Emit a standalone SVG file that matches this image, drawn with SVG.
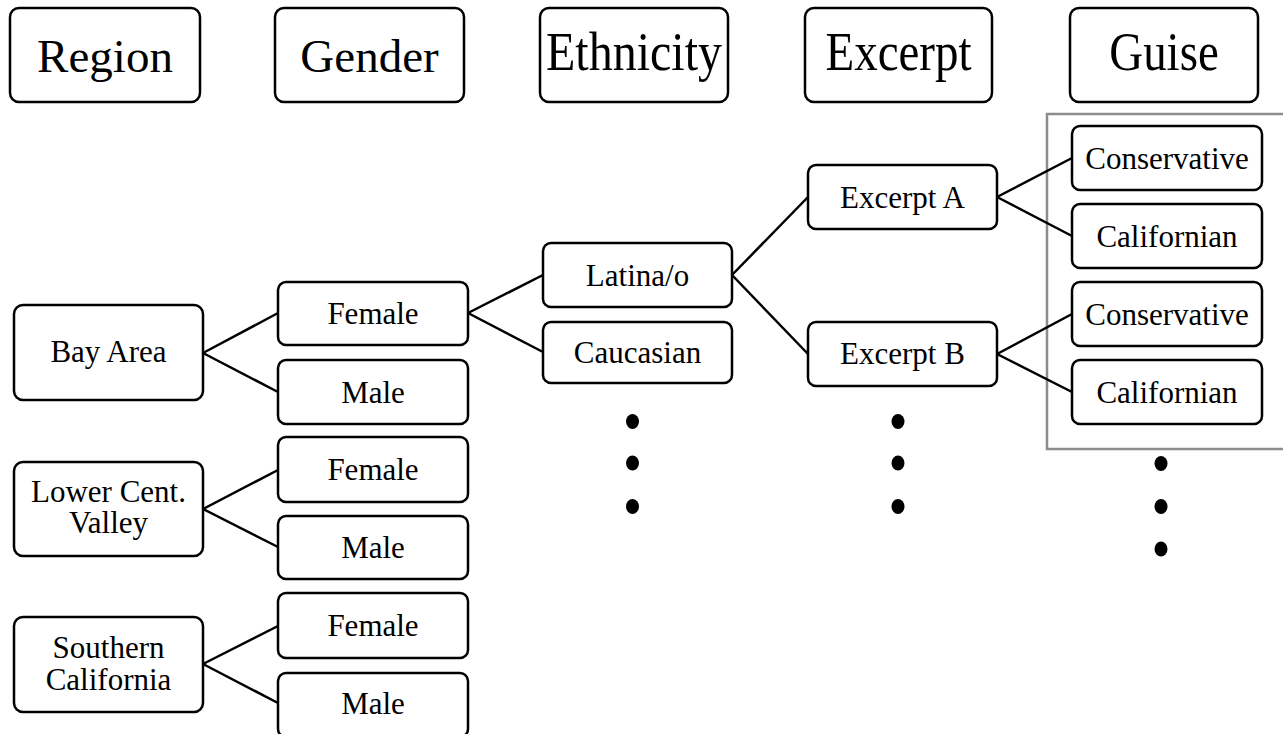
<svg xmlns="http://www.w3.org/2000/svg" width="1283" height="734" viewBox="0 0 1283 734">
  <style>
    .box { fill: #ffffff; stroke: #000000; stroke-width: 2.5; }
    .hdr { font-size: 47px; fill: #000; text-anchor: middle; }
    .lbl { font-size: 31px; fill: #000; text-anchor: middle; }
    .edge { stroke: #000000; stroke-width: 2.5; fill: none; }
    .dot { fill: #000000; }
  </style>

  <rect x="0" y="0" width="1283" height="734" fill="#ffffff"/>

  <!-- highlight frame around the guise leaves -->
  <rect id="guise-frame" x="1047" y="114" width="260" height="335" fill="none" stroke="#8c8c8c" stroke-width="2.5"/>

  <!-- connectors -->
  <g id="connectors" class="edge">
    <line x1="203" y1="353" x2="278" y2="313"/>
    <line x1="203" y1="353" x2="278" y2="392"/>
    <line x1="203" y1="509" x2="278" y2="470"/>
    <line x1="203" y1="509" x2="278" y2="547"/>
    <line x1="203" y1="664" x2="278" y2="626"/>
    <line x1="203" y1="664" x2="278" y2="703"/>
    <line x1="468" y1="313" x2="543" y2="275"/>
    <line x1="468" y1="313" x2="543" y2="352"/>
    <line x1="732" y1="275" x2="808" y2="197"/>
    <line x1="732" y1="275" x2="808" y2="354"/>
    <line x1="997" y1="197" x2="1072" y2="158"/>
    <line x1="997" y1="197" x2="1072" y2="236"/>
    <line x1="997" y1="354" x2="1072" y2="314"/>
    <line x1="997" y1="354" x2="1072" y2="392"/>
  </g>

  <g font-family="Liberation Serif, Tinos, Times New Roman, DejaVu Serif, serif">
  <!-- column headers -->
  <g id="hdr-region">
    <rect class="box" x="10" y="8" width="190" height="94" rx="9"/>
    <text class="hdr" x="105" y="72">Region</text>
  </g>
  <g id="hdr-gender">
    <rect class="box" x="275" y="8" width="189" height="94" rx="9"/>
    <text class="hdr" x="369.5" y="72">Gender</text>
  </g>
  <g id="hdr-ethnicity">
    <rect class="box" x="540" y="8" width="188" height="94" rx="9"/>
    <text class="hdr" transform="translate(634 70) scale(1 1.15)" x="0" y="0" textLength="176" lengthAdjust="spacingAndGlyphs">Ethnicity</text>
  </g>
  <g id="hdr-excerpt">
    <rect class="box" x="805" y="8" width="187" height="94" rx="9"/>
    <text class="hdr" transform="translate(898.5 70) scale(1 1.15)" x="0" y="0">Excerpt</text>
  </g>
  <g id="hdr-guise">
    <rect class="box" x="1070" y="8" width="188" height="94" rx="9"/>
    <text class="hdr" transform="translate(1164 70) scale(1 1.15)" x="0" y="0">Guise</text>
  </g>

  <!-- regions -->
  <g id="region-bay">
    <rect class="box" x="14" y="305" width="189" height="95" rx="9"/>
    <text class="lbl" x="108.5" y="362">Bay Area</text>
  </g>
  <g id="region-lcv">
    <rect class="box" x="14" y="462" width="189" height="94" rx="9"/>
    <text class="lbl" x="108.5" y="502">Lower Cent.</text>
    <text class="lbl" x="108.5" y="533">Valley</text>
  </g>
  <g id="region-socal">
    <rect class="box" x="14" y="617" width="189" height="95" rx="9"/>
    <text class="lbl" x="108.5" y="658">Southern</text>
    <text class="lbl" x="108.5" y="690">California</text>
  </g>

  <!-- genders -->
  <g id="gender-bay-f">
    <rect class="box" x="278" y="282" width="190" height="63" rx="8"/>
    <text class="lbl" x="373" y="324">Female</text>
  </g>
  <g id="gender-bay-m">
    <rect class="box" x="278" y="360" width="190" height="64" rx="8"/>
    <text class="lbl" x="373" y="403">Male</text>
  </g>
  <g id="gender-lcv-f">
    <rect class="box" x="278" y="437" width="190" height="65" rx="8"/>
    <text class="lbl" x="373" y="480">Female</text>
  </g>
  <g id="gender-lcv-m">
    <rect class="box" x="278" y="516" width="190" height="63" rx="8"/>
    <text class="lbl" x="373" y="558">Male</text>
  </g>
  <g id="gender-socal-f">
    <rect class="box" x="278" y="593" width="190" height="65" rx="8"/>
    <text class="lbl" x="373" y="636">Female</text>
  </g>
  <g id="gender-socal-m">
    <rect class="box" x="278" y="673" width="190" height="64" rx="8"/>
    <text class="lbl" x="373" y="714">Male</text>
  </g>

  <!-- ethnicities -->
  <g id="eth-latina">
    <rect class="box" x="543" y="243" width="189" height="64" rx="8"/>
    <text class="lbl" x="637.5" y="286">Latina/o</text>
  </g>
  <g id="eth-caucasian">
    <rect class="box" x="543" y="322" width="189" height="61" rx="8"/>
    <text class="lbl" x="637.5" y="363">Caucasian</text>
  </g>

  <!-- excerpts -->
  <g id="excerpt-a">
    <rect class="box" x="808" y="165" width="189" height="64" rx="8"/>
    <text class="lbl" x="902.5" y="208">Excerpt A</text>
  </g>
  <g id="excerpt-b">
    <rect class="box" x="808" y="322" width="189" height="64" rx="8"/>
    <text class="lbl" x="902.5" y="364">Excerpt B</text>
  </g>

  <!-- guises -->
  <g id="guise-a-cons">
    <rect class="box" x="1072" y="126" width="190" height="64" rx="8"/>
    <text class="lbl" x="1167" y="169">Conservative</text>
  </g>
  <g id="guise-a-cal">
    <rect class="box" x="1072" y="204" width="190" height="64" rx="8"/>
    <text class="lbl" x="1167" y="247">Californian</text>
  </g>
  <g id="guise-b-cons">
    <rect class="box" x="1072" y="282" width="190" height="64" rx="8"/>
    <text class="lbl" x="1167" y="325">Conservative</text>
  </g>
  <g id="guise-b-cal">
    <rect class="box" x="1072" y="360" width="190" height="64" rx="8"/>
    <text class="lbl" x="1167" y="403">Californian</text>
  </g>
  </g>

  <!-- continuation dots -->
  <g id="more-ethnicity" class="dot">
    <ellipse cx="632.5" cy="421.5" rx="6.5" ry="7.5"/>
    <ellipse cx="632.5" cy="463" rx="6.5" ry="7.5"/>
    <ellipse cx="632.5" cy="506.5" rx="6.5" ry="7.5"/>
  </g>
  <g id="more-excerpt" class="dot">
    <ellipse cx="898" cy="421.5" rx="6.5" ry="7.5"/>
    <ellipse cx="898" cy="463" rx="6.5" ry="7.5"/>
    <ellipse cx="898" cy="506.5" rx="6.5" ry="7.5"/>
  </g>
  <g id="more-guise" class="dot">
    <ellipse cx="1161" cy="463.5" rx="6.5" ry="7.5"/>
    <ellipse cx="1161" cy="506.5" rx="6.5" ry="7.5"/>
    <ellipse cx="1161" cy="549" rx="6.5" ry="7.5"/>
  </g>
</svg>
